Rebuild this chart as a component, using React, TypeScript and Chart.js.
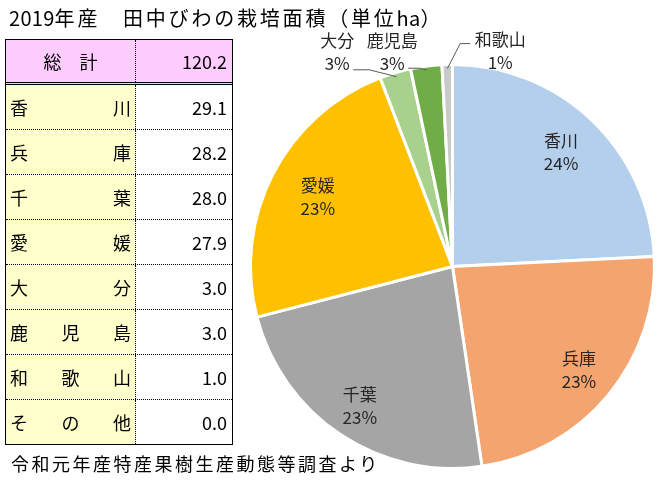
import React, { useEffect, useRef } from 'react';
import { Chart, registerables } from 'chart.js';

Chart.register(...registerables);

const prefectures = ['香川', '兵庫', '千葉', '愛媛', '大分', '鹿児島', '和歌山', 'その他'];
const areas = [29.1, 28.2, 28.0, 27.9, 3.0, 3.0, 1.0, 0.0];
const percentLabels = ['24%', '23%', '23%', '23%', '3%', '3%', '1%', '0%'];
const totalArea = 120.2;
const sliceColors = ['#b4cfeb', '#f3a46f', '#a5a5a5', '#ffc000', '#a9d18e', '#70ad47', '#c9c9c9', '#d9d9d9'];

const titleText = '2019年産　田中びわの栽培面積（単位ha）';
const sourceText = '令和元年産特産果樹生産動態等調査より';
const totalLabel = '総　計';

// radial position (fraction of radius) of labels drawn inside the slices
const insideLabelRadius: Record<string, number> = { '香川': 0.78, '兵庫': 0.81, '千葉': 0.83, '愛媛': 0.75 };

// label placement for small slices (offset from slice edge, leader start offset, elbow length)
const outsideLabelStyle: Record<string, { dx: number; dy: number; lx: number; ly: number; elbow: number }> = {
  '大分': { dx: -58, dy: -21, lx: 16, ly: 18, elbow: 16 },
  '鹿児島': { dx: -34, dy: -14, lx: 16, ly: 16, elbow: 12 },
  '和歌山': { dx: 53, dy: -14, lx: -30, ly: -7, elbow: -10 },
};

const FONT = '"Noto Sans CJK JP", "Noto Sans", sans-serif';

const visibleIdx = areas.map((v, i) => (v > 0 ? i : -1)).filter((i) => i >= 0);
const pieLabels = visibleIdx.map((i) => prefectures[i]);
const pieValues = visibleIdx.map((i) => areas[i]);
const piePercents = visibleIdx.map((i) => percentLabels[i]);
const pieColors = visibleIdx.map((i) => sliceColors[i]);

const labelPlugin = {
  id: 'sliceLabels',
  afterDatasetsDraw(chart: any) {
    const ctx = chart.ctx as CanvasRenderingContext2D;
    const meta = chart.getDatasetMeta(0);
    const labels = chart.data.labels as string[];
    meta.data.forEach((arc: any, i: number) => {
      const { x, y, startAngle, endAngle, outerRadius } = arc.getProps(
        ['x', 'y', 'startAngle', 'endAngle', 'outerRadius'],
        true
      );
      const mid = (startAngle + endAngle) / 2;
      const name = labels[i];
      const pct = piePercents[i];
      ctx.save();
      ctx.font = `17px ${FONT}`;
      ctx.fillStyle = '#262626';
      ctx.textAlign = 'center';
      ctx.textBaseline = 'middle';
      const out = outsideLabelStyle[name];
      if (!out) {
        const r = outerRadius * (insideLabelRadius[name] ?? 0.79);
        const cx = x + r * Math.cos(mid);
        const cy = y + r * Math.sin(mid);
        ctx.fillText(name, cx, cy - 11.5);
        ctx.fillText(pct, cx, cy + 11.5);
      } else {
        const ex = x + outerRadius * Math.cos(mid);
        const ey = y + outerRadius * Math.sin(mid);
        const cx = ex + out.dx;
        const cy = ey + out.dy;
        ctx.fillText(name, cx, cy - 11.5);
        ctx.fillText(pct, cx, cy + 11.5);
        const sx = cx + out.lx;
        const sy = cy + out.ly;
        ctx.strokeStyle = '#595959';
        ctx.lineWidth = 1;
        ctx.beginPath();
        ctx.moveTo(sx, sy);
        ctx.lineTo(sx + out.elbow, sy);
        ctx.lineTo(x + (outerRadius - 4) * Math.cos(mid), y + (outerRadius - 4) * Math.sin(mid));
        ctx.stroke();
      }
      ctx.restore();
    });
  },
};

function NameCell({ name }: { name: string }) {
  const chars = Array.from(name);
  return (
    <div
      style={{
        width: 130,
        boxSizing: 'border-box',
        borderRight: '1px dotted #000',
        background: '#ffffcc',
        display: 'flex',
        justifyContent: 'space-between',
        alignItems: 'center',
        padding: '0 4px',
        height: '100%',
      }}
    >
      {chars.map((c, k) => (
        <span key={k}>{c}</span>
      ))}
    </div>
  );
}

function SpacedText({ text }: { text: string }) {
  const runs = text.match(/[\x00-\x7f]+|[^\x00-\x7f]+/g) || [];
  return (
    <>
      {runs.map((r, k) => (
        <span key={k} style={{ letterSpacing: /^[\x00-\x7f]/.test(r) ? 0.3 : 2.8 }}>
          {r}
        </span>
      ))}
    </>
  );
}

export default function App() {
  const canvasRef = useRef<HTMLCanvasElement | null>(null);

  useEffect(() => {
    if (!canvasRef.current) return;
    const chart = new Chart(canvasRef.current, {
      type: 'pie',
      data: {
        labels: pieLabels,
        datasets: [
          {
            data: pieValues,
            backgroundColor: pieColors,
            borderColor: '#ffffff',
            borderWidth: 3,
            hoverBorderWidth: 3,
          },
        ],
      },
      options: {
        animation: false,
        responsive: false,
        events: [],
        layout: { padding: { left: 249, right: 3, top: 63, bottom: 16 } },
        plugins: { legend: { display: false }, tooltip: { enabled: false } },
      },
      plugins: [labelPlugin],
    });
    return () => chart.destroy();
  }, []);

  const rowStyle: React.CSSProperties = {
    display: 'flex',
    height: 45,
    boxSizing: 'border-box',
    borderBottom: '1px dotted #000',
    alignItems: 'stretch',
  };

  return (
    <div
      style={{
        position: 'fixed',
        left: 0,
        top: 0,
        width: 659,
        height: 486,
        background: '#fff',
        fontFamily: FONT,
        color: '#000',
        overflow: 'hidden',
      }}
    >
      <canvas ref={canvasRef} width={659} height={486} style={{ position: 'absolute', left: 0, top: 0 }} />
      <div
        style={{
          position: 'absolute',
          left: 9,
          top: 5,
          fontSize: 20,
          lineHeight: '26px',
          whiteSpace: 'pre',
        }}
      >
        <SpacedText text={titleText} />
      </div>
      <div
        style={{
          position: 'absolute',
          left: 5,
          top: 39,
          width: 228,
          border: '1px solid #000',
          boxSizing: 'border-box',
          fontSize: 18,
        }}
      >
        <div style={{ display: 'flex', height: 45, boxSizing: 'border-box', borderBottom: '3px double #000', background: '#ffccff' }}>
          <div
            style={{
              width: 130,
              boxSizing: 'border-box',
              borderRight: '1px dotted #000',
              display: 'flex',
              alignItems: 'center',
              justifyContent: 'center',
              whiteSpace: 'pre',
            }}
          >
            {totalLabel}
          </div>
          <div style={{ flex: 1, display: 'flex', alignItems: 'center', justifyContent: 'flex-end', paddingRight: 5 }}>
            {totalArea.toFixed(1)}
          </div>
        </div>
        {prefectures.map((p, i) => (
          <div key={p} style={{ ...rowStyle, borderBottom: i === prefectures.length - 1 ? 'none' : rowStyle.borderBottom, height: i === prefectures.length - 1 ? 44 : 45 }}>
            <NameCell name={p} />
            <div style={{ flex: 1, display: 'flex', alignItems: 'center', justifyContent: 'flex-end', paddingRight: 5 }}>
              {areas[i].toFixed(1)}
            </div>
          </div>
        ))}
      </div>
      <div
        style={{
          position: 'absolute',
          left: 11,
          top: 450,
          fontSize: 18,
          lineHeight: '26px',
          letterSpacing: 2.5,
          whiteSpace: 'pre',
        }}
      >
        {sourceText}
      </div>
    </div>
  );
}
